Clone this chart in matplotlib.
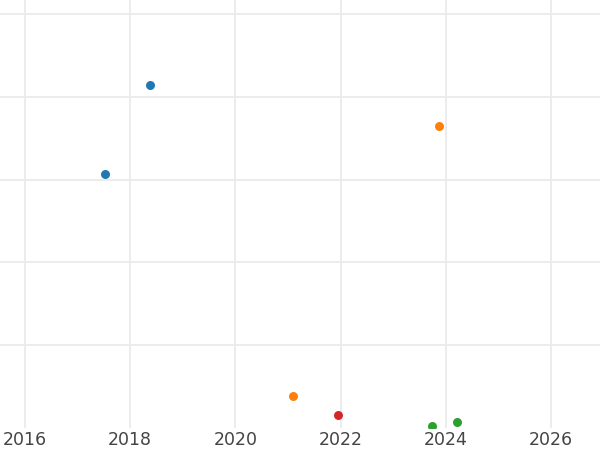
import matplotlib
matplotlib.use("Agg")
import matplotlib.pyplot as plt

# years (x) and values (y) per series
blue_x = [2017.52, 2018.38]
blue_y = [61.3, 82.8]
orange_x = [2021.10, 2023.87]
orange_y = [7.7, 72.9]
red_x = [2021.95]
red_y = [3.1]
green_x = [2023.74, 2024.21]
green_y = [0.4, 1.4]

series = [
    (blue_x, blue_y, "#1f77b4"),
    (orange_x, orange_y, "#ff7f0e"),
    (green_x, green_y, "#2ca02c"),
    (red_x, red_y, "#d62728"),
]

x_ticks = [2016, 2018, 2020, 2022, 2024, 2026]
y_ticks = [20, 40, 60, 80, 100]

fig = plt.figure(figsize=(6, 4.5), dpi=100)
ax = fig.add_axes([0, 22 / 450, 1, 428 / 450])

for xs, ys, color in series:
    ax.scatter(xs, ys, s=42, color=color, zorder=3, linewidths=0)

ax.set_xlim(2015.525, 2026.93)
ax.set_ylim(0, 103.4)
ax.set_xticks(x_ticks)
ax.set_yticks(y_ticks)
ax.set_yticklabels([])
ax.tick_params(axis="both", length=0)
ax.tick_params(axis="x", labelsize=12.5, labelcolor="#444444", pad=2)
ax.grid(True, color="#ebebeb", linewidth=1.3)
ax.set_axisbelow(True)
for sp in ax.spines.values():
    sp.set_visible(False)

fig.savefig("out.png", dpi=100)
